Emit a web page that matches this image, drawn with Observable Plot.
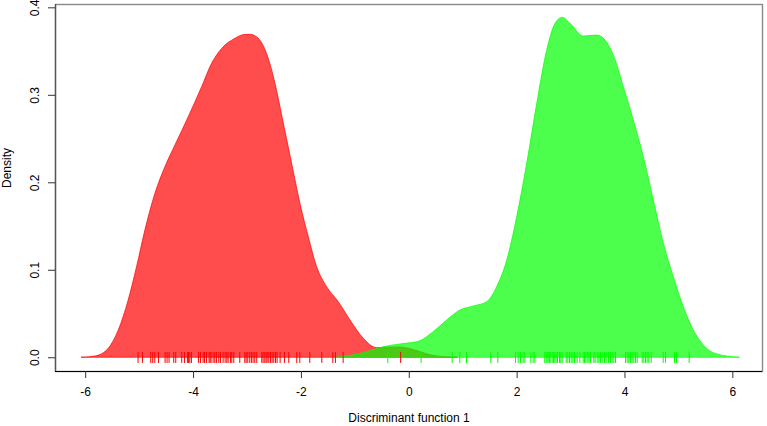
<!DOCTYPE html>
<html>
<head>
<meta charset="utf-8">
<script src="https://cdn.jsdelivr.net/npm/d3@7"></script>
<script src="https://cdn.jsdelivr.net/npm/@observablehq/plot@0.6"></script>
<style>
  html, body { margin: 0; padding: 0; background: #fff; }
  #chart svg { display: block; font-family: "Liberation Sans", Arial, Helvetica, sans-serif; }
</style>
</head>
<body>
<div id="chart"></div>
<script>
// Density of discriminant scores, group 1 (red)
const redX = [-6.07, -5.815, -5.573, -5.388, -5.203, -5.048, -4.893, -4.707, -4.522, -4.336, -4.089, -3.841, -3.656, -3.47, -3.223, -3.05, -2.945, -2.79, -2.635, -2.48, -2.326, -2.172, -2.018, -1.863, -1.708, -1.523, -1.307, -1.09, -0.844, -0.596, -0.4, -0.2, 0.0, 0.2, 0.4, 0.6, 0.9];
const redY = [0, 0.0015, 0.0103, 0.031, 0.0655, 0.1035, 0.1455, 0.1874, 0.2178, 0.2426, 0.275, 0.3093, 0.336, 0.353, 0.3646, 0.369, 0.3692, 0.3646, 0.347, 0.313, 0.2674, 0.2217, 0.176, 0.1378, 0.1035, 0.0807, 0.0635, 0.0426, 0.0217, 0.011, 0.0115, 0.0118, 0.0102, 0.0066, 0.0028, 0.0009, 0];

// Density of discriminant scores, group 2 (green)
const greenX = [-1.34, -1.05, -0.78, -0.47, -0.163, 0.05, 0.208, 0.454, 0.703, 0.95, 1.196, 1.445, 1.63, 1.816, 2.001, 2.187, 2.372, 2.557, 2.712, 2.847, 2.99, 3.236, 3.485, 3.639, 3.793, 3.979, 4.164, 4.35, 4.535, 4.721, 4.906, 5.091, 5.277, 5.462, 5.71, 6.13];
const greenY = [0, 0.0025, 0.0064, 0.0121, 0.0152, 0.0168, 0.019, 0.0293, 0.0426, 0.054, 0.0586, 0.0635, 0.0807, 0.111, 0.1607, 0.2217, 0.290, 0.351, 0.3817, 0.3886, 0.3817, 0.3672, 0.3683, 0.3626, 0.3455, 0.3093, 0.2712, 0.2293, 0.1798, 0.1303, 0.0921, 0.0578, 0.0312, 0.0141, 0.0038, 0];

// Rug: individual scores
const redRug = [-5.029, -4.948, -4.794, -4.757, -4.719, -4.651, -4.528, -4.491, -4.454, -4.367, -4.330, -4.219, -4.169, -4.114, -4.095, -4.070, -4.040, -3.910, -3.872, -3.823, -3.798, -3.761, -3.712, -3.693, -3.675, -3.637, -3.607, -3.576, -3.532, -3.501, -3.452, -3.415, -3.384, -3.359, -3.316, -3.291, -3.254, -3.143, -3.050, -3.025, -2.995, -2.958, -2.927, -2.896, -2.865, -2.828, -2.735, -2.710, -2.679, -2.655, -2.636, -2.605, -2.574, -2.543, -2.512, -2.481, -2.451, -2.395, -2.315, -2.234, -2.086, -2.030, -1.845, -1.622, -1.418, -1.369, -1.226, -0.160];
const greenRug = [-0.398, 0.220, 0.795, 0.937, 1.061, 1.512, 1.642, 1.970, 2.019, 2.062, 2.112, 2.143, 2.254, 2.297, 2.328, 2.513, 2.538, 2.557, 2.576, 2.600, 2.625, 2.650, 2.674, 2.699, 2.724, 2.749, 2.786, 2.810, 2.835, 2.910, 2.940, 2.971, 3.002, 3.033, 3.064, 3.113, 3.163, 3.225, 3.249, 3.274, 3.299, 3.330, 3.361, 3.422, 3.447, 3.484, 3.515, 3.546, 3.577, 3.620, 3.651, 3.694, 3.731, 3.762, 3.793, 3.824, 4.010, 4.041, 4.071, 4.102, 4.133, 4.164, 4.195, 4.226, 4.319, 4.350, 4.381, 4.411, 4.442, 4.486, 4.709, 4.751, 4.918, 4.956, 5.190];

const xTicks = [-6, -4, -2, 0, 2, 4, 6];
const yTicks = [0.0, 0.1, 0.2, 0.3, 0.4];
const xTitle = "Discriminant function 1";
const yTitle = "Density";

const red = redX.map((x, i) => ({x, y: redY[i]}));
const green = greenX.map((x, i) => ({x, y: greenY[i]}));

const chart = Plot.plot({
  width: 767,
  height: 426,
  marginLeft: 55,
  marginRight: 5,
  marginTop: 4,
  marginBottom: 55,
  style: {fontSize: "12px", fontFamily: "'Liberation Sans', Arial, Helvetica, sans-serif", background: "#fff", color: "#000"},
  x: {domain: [-6.56, 6.55], axis: null},
  y: {domain: [-0.0157, 0.4038], axis: null},
  marks: [
    Plot.areaY(red, {x: "x", y: "y", curve: "monotone-x", fill: "#ff0000", fillOpacity: 0.7, stroke: "#ff0000", strokeOpacity: 0.7, strokeWidth: 1}),
    Plot.areaY(green, {x: "x", y: "y", curve: "monotone-x", fill: "#00ff00", fillOpacity: 0.7, stroke: "#00ff00", strokeOpacity: 0.7, strokeWidth: 1}),
    Plot.ruleX(redRug, {x: d => d, y1: -0.0065, y2: 0.006, stroke: "#ff0000", strokeWidth: 1}),
    Plot.ruleX(greenRug, {x: d => d, y1: -0.0065, y2: 0.006, stroke: "#00ff00", strokeWidth: 1}),
    Plot.frame({stroke: "#8a8a8a", strokeWidth: 1.4}),
    Plot.ruleX([-6.56], {y1: -0.0157, y2: 0.4038, stroke: "#555", strokeWidth: 1.3}),
    Plot.ruleY([-0.0157], {stroke: "#000", strokeWidth: 1}),
    Plot.axisX({ticks: xTicks, tickSize: 7, tickPadding: 9, tickFormat: d => d, anchor: "bottom", label: null, stroke: "#333", fontSize: 12}),
    Plot.axisY({ticks: yTicks, tickSize: 7, tickFormat: () => "", anchor: "left", label: null, stroke: "#333"}),
    Plot.text(yTicks, {y: d => d, text: d => d.toFixed(1), frameAnchor: "left", dx: -20, rotate: -90, textAnchor: "middle", lineAnchor: "middle", fontSize: 12, fill: "#000"}),
    Plot.text([xTitle], {text: d => d, frameAnchor: "bottom", dy: 47, lineAnchor: "middle", fontSize: 12, fill: "#000"}),
    Plot.text([yTitle], {text: d => d, frameAnchor: "left", dx: -48, rotate: -90, lineAnchor: "middle", fontSize: 12, fill: "#000"})
  ]
});
document.getElementById("chart").appendChild(chart);
</script>
</body>
</html>
